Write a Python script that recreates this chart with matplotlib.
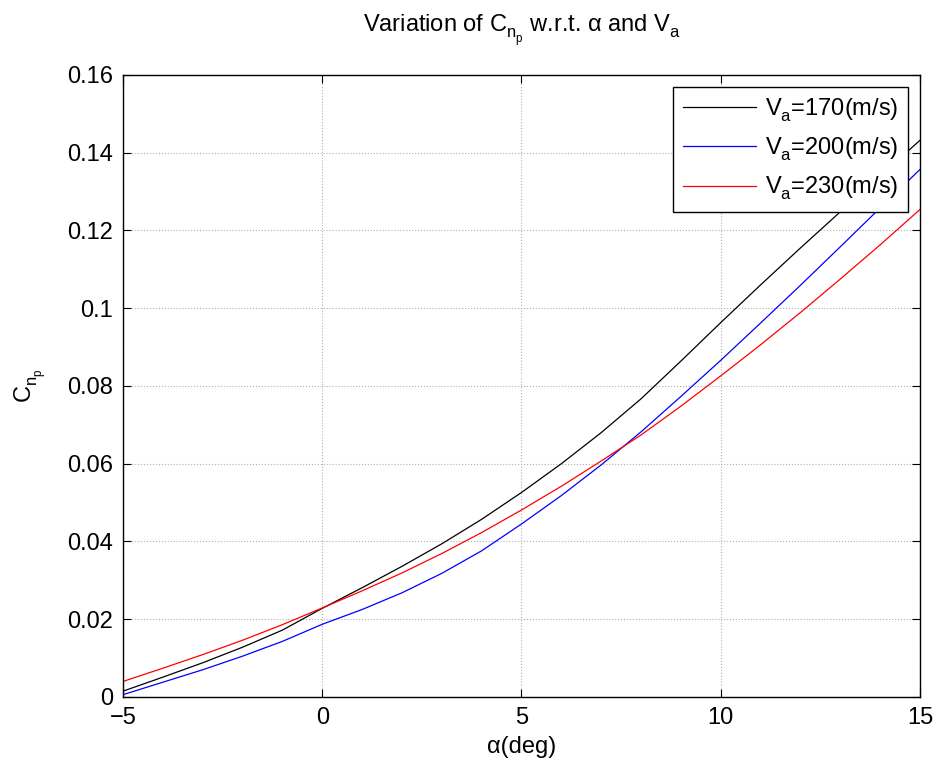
import numpy as np
import matplotlib.pyplot as plt
import matplotlib._mathtext as mt

plt.rcParams['font.family'] = ['Liberation Sans', 'DejaVu Sans']
plt.rcParams['mathtext.fontset'] = 'custom'
plt.rcParams['mathtext.rm'] = 'Liberation Sans'
plt.rcParams['mathtext.it'] = 'Liberation Sans'
plt.rcParams['mathtext.bf'] = 'Liberation Sans:bold'
# MATLAB puts subscripts a bit lower
mt.FontConstantsBase.sub1 = 0.5

# angle of attack (deg)
alpha = [-5, -4, -3, -2, -1, 0, 1, 2, 3, 4, 5, 6, 7, 8, 9, 10, 11, 12, 13, 14, 15]

# C_np
cnp_170 = [0.0015, 0.0051, 0.0088, 0.0128, 0.0172, 0.0228, 0.0281, 0.0336, 0.0394, 0.0457, 0.0526,
           0.0600, 0.0680, 0.0767, 0.0864, 0.0963, 0.1060, 0.1155, 0.1248, 0.1340, 0.1432]
cnp_200 = [0.0006, 0.0038, 0.0070, 0.0105, 0.0143, 0.0187, 0.0225, 0.0268, 0.0318, 0.0376, 0.0445,
           0.0518, 0.0597, 0.0682, 0.0773, 0.0866, 0.0962, 0.1059, 0.1158, 0.1258, 0.1357]
cnp_230 = [0.0040, 0.0074, 0.0109, 0.0146, 0.0186, 0.0229, 0.0273, 0.0319, 0.0369, 0.0423, 0.0481,
           0.0542, 0.0607, 0.0674, 0.0748, 0.0826, 0.0906, 0.0989, 0.1075, 0.1163, 0.1254]

labels = ['V$_a$=170(m/s)', 'V$_a$=200(m/s)', 'V$_a$=230(m/s)']
colors = ['black', '#0000ff', '#ff0000']

fig = plt.figure(figsize=(9.38, 7.65), dpi=100)
ax = fig.add_axes([0.1311, 0.0889, 0.8497, 0.8131])

for y, lab, c in zip([cnp_170, cnp_200, cnp_230], labels, colors):
    ax.plot(alpha, y, color=c, lw=0.9, label=lab)

ax.set_xlim(-5, 15)
ax.set_ylim(0, 0.16)
ax.set_xticks([-5, 0, 5, 10, 15])
ax.set_yticks(np.arange(0, 0.161, 0.02))
ax.set_yticklabels(['0', '0.02', '0.04', '0.06', '0.08', '0.1', '0.12', '0.14', '0.16'])

ax.grid(True, linestyle=':', color='#b0b0b0', lw=0.8)
ax.tick_params(direction='in', length=6, width=0.8, top=True, right=True, labelsize=17, pad=7)
for s in ax.spines.values():
    s.set_linewidth(1.0)

ax.set_xlabel('α(deg)', fontsize=17, labelpad=5)
ax.set_ylabel('C$_{n_p}$', fontsize=17, labelpad=14)
ax.set_title('Variation of C$_{n_p}$ w.r.t. α and V$_a$', fontsize=17, pad=31)

leg = ax.legend(loc='upper right', fontsize=17, handlelength=3.1, handletextpad=0.4,
                borderaxespad=0.5, fancybox=False, framealpha=1, edgecolor='black',
                labelspacing=0.5)
leg.get_frame().set_linewidth(1.0)

fig.savefig('out.png', dpi=100)
